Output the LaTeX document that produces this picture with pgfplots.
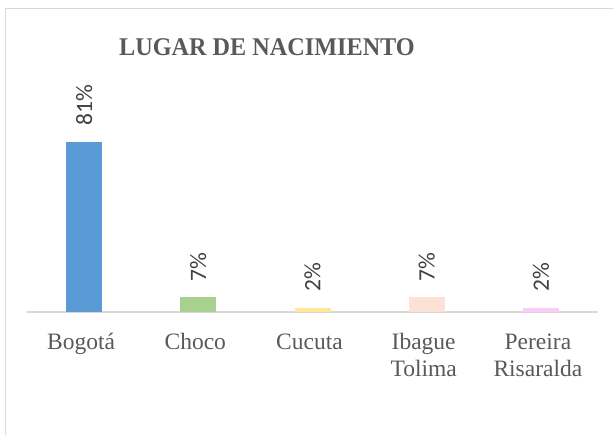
\documentclass[border=0pt]{standalone}
\usepackage{pgfplots}
\pgfplotsset{compat=1.18}
\usepackage{fontspec}
\setmainfont{Liberation Serif}
\newfontfamily\carlito{Carlito}

\definecolor{cBlue}{HTML}{5B9BD5}
\definecolor{cGreen}{HTML}{A9D18E}
\definecolor{cYellow}{HTML}{FFE699}
\definecolor{cPeach}{HTML}{FBE2D5}
\definecolor{cPink}{HTML}{FBCCFB}
\definecolor{frameGray}{HTML}{D9D9D9}
\definecolor{txtGray}{HTML}{595959}
\definecolor{lblGray}{HTML}{404040}

\begin{document}
\begin{tikzpicture}
\useasboundingbox (0,0) rectangle (613pt,435pt);
% chart frame (only top and left edges are visible in the crop)
\draw[frameGray, line width=1.5pt] (5.5pt,0) -- (5.5pt,426.5pt) -- (613pt,426.5pt);

\node[anchor=base, xscale=0.95, text=txtGray, font=\fontsize{25.5}{30}\selectfont\bfseries]
  at (267pt,379pt) {LUGAR DE NACIMIENTO};

\begin{axis}[
    at={(27pt,123pt)}, anchor=south west,
    scale only axis, width=571pt, height=210pt,
    xmin=-0.5, xmax=4.5, ymin=0, ymax=100,
    axis x line*=bottom, axis y line=none,
    x axis line style={draw=frameGray, line width=1.2pt, -},
    xtick={0,1,2,3,4},
    xticklabels={\strut Bogotá, \strut Choco, \strut Cucuta, \strut Ibague\\\strut Tolima, \strut Pereira\\\strut Risaralda},
    xticklabel style={font=\fontsize{23.5}{27}\selectfont, text=txtGray, align=center, anchor=north, inner sep=0pt, yshift=-18pt, xshift=-3pt},
    major tick length=0pt,
    /pgf/number format/assume math mode=true,
    ybar, bar width=36pt, bar shift=0pt,
    nodes near coords={\pgfmathprintnumber{\pgfplotspointmeta}\%},
    every node near coord/.append style={yshift=16pt, rotate=90, anchor=west, inner sep=0pt,
        font=\carlito\fontsize{23.5}{28}\selectfont, text=lblGray},
    clip=false,
]
\addplot[fill=cBlue, draw=none] coordinates {(0,81)};
\addplot[fill=cGreen, draw=none] coordinates {(1,7)};
\addplot[fill=cYellow, draw=none] coordinates {(2,2)};
\addplot[fill=cPeach, draw=none] coordinates {(3,7)};
\addplot[fill=cPink, draw=none] coordinates {(4,2)};
\end{axis}
\end{tikzpicture}
\end{document}
